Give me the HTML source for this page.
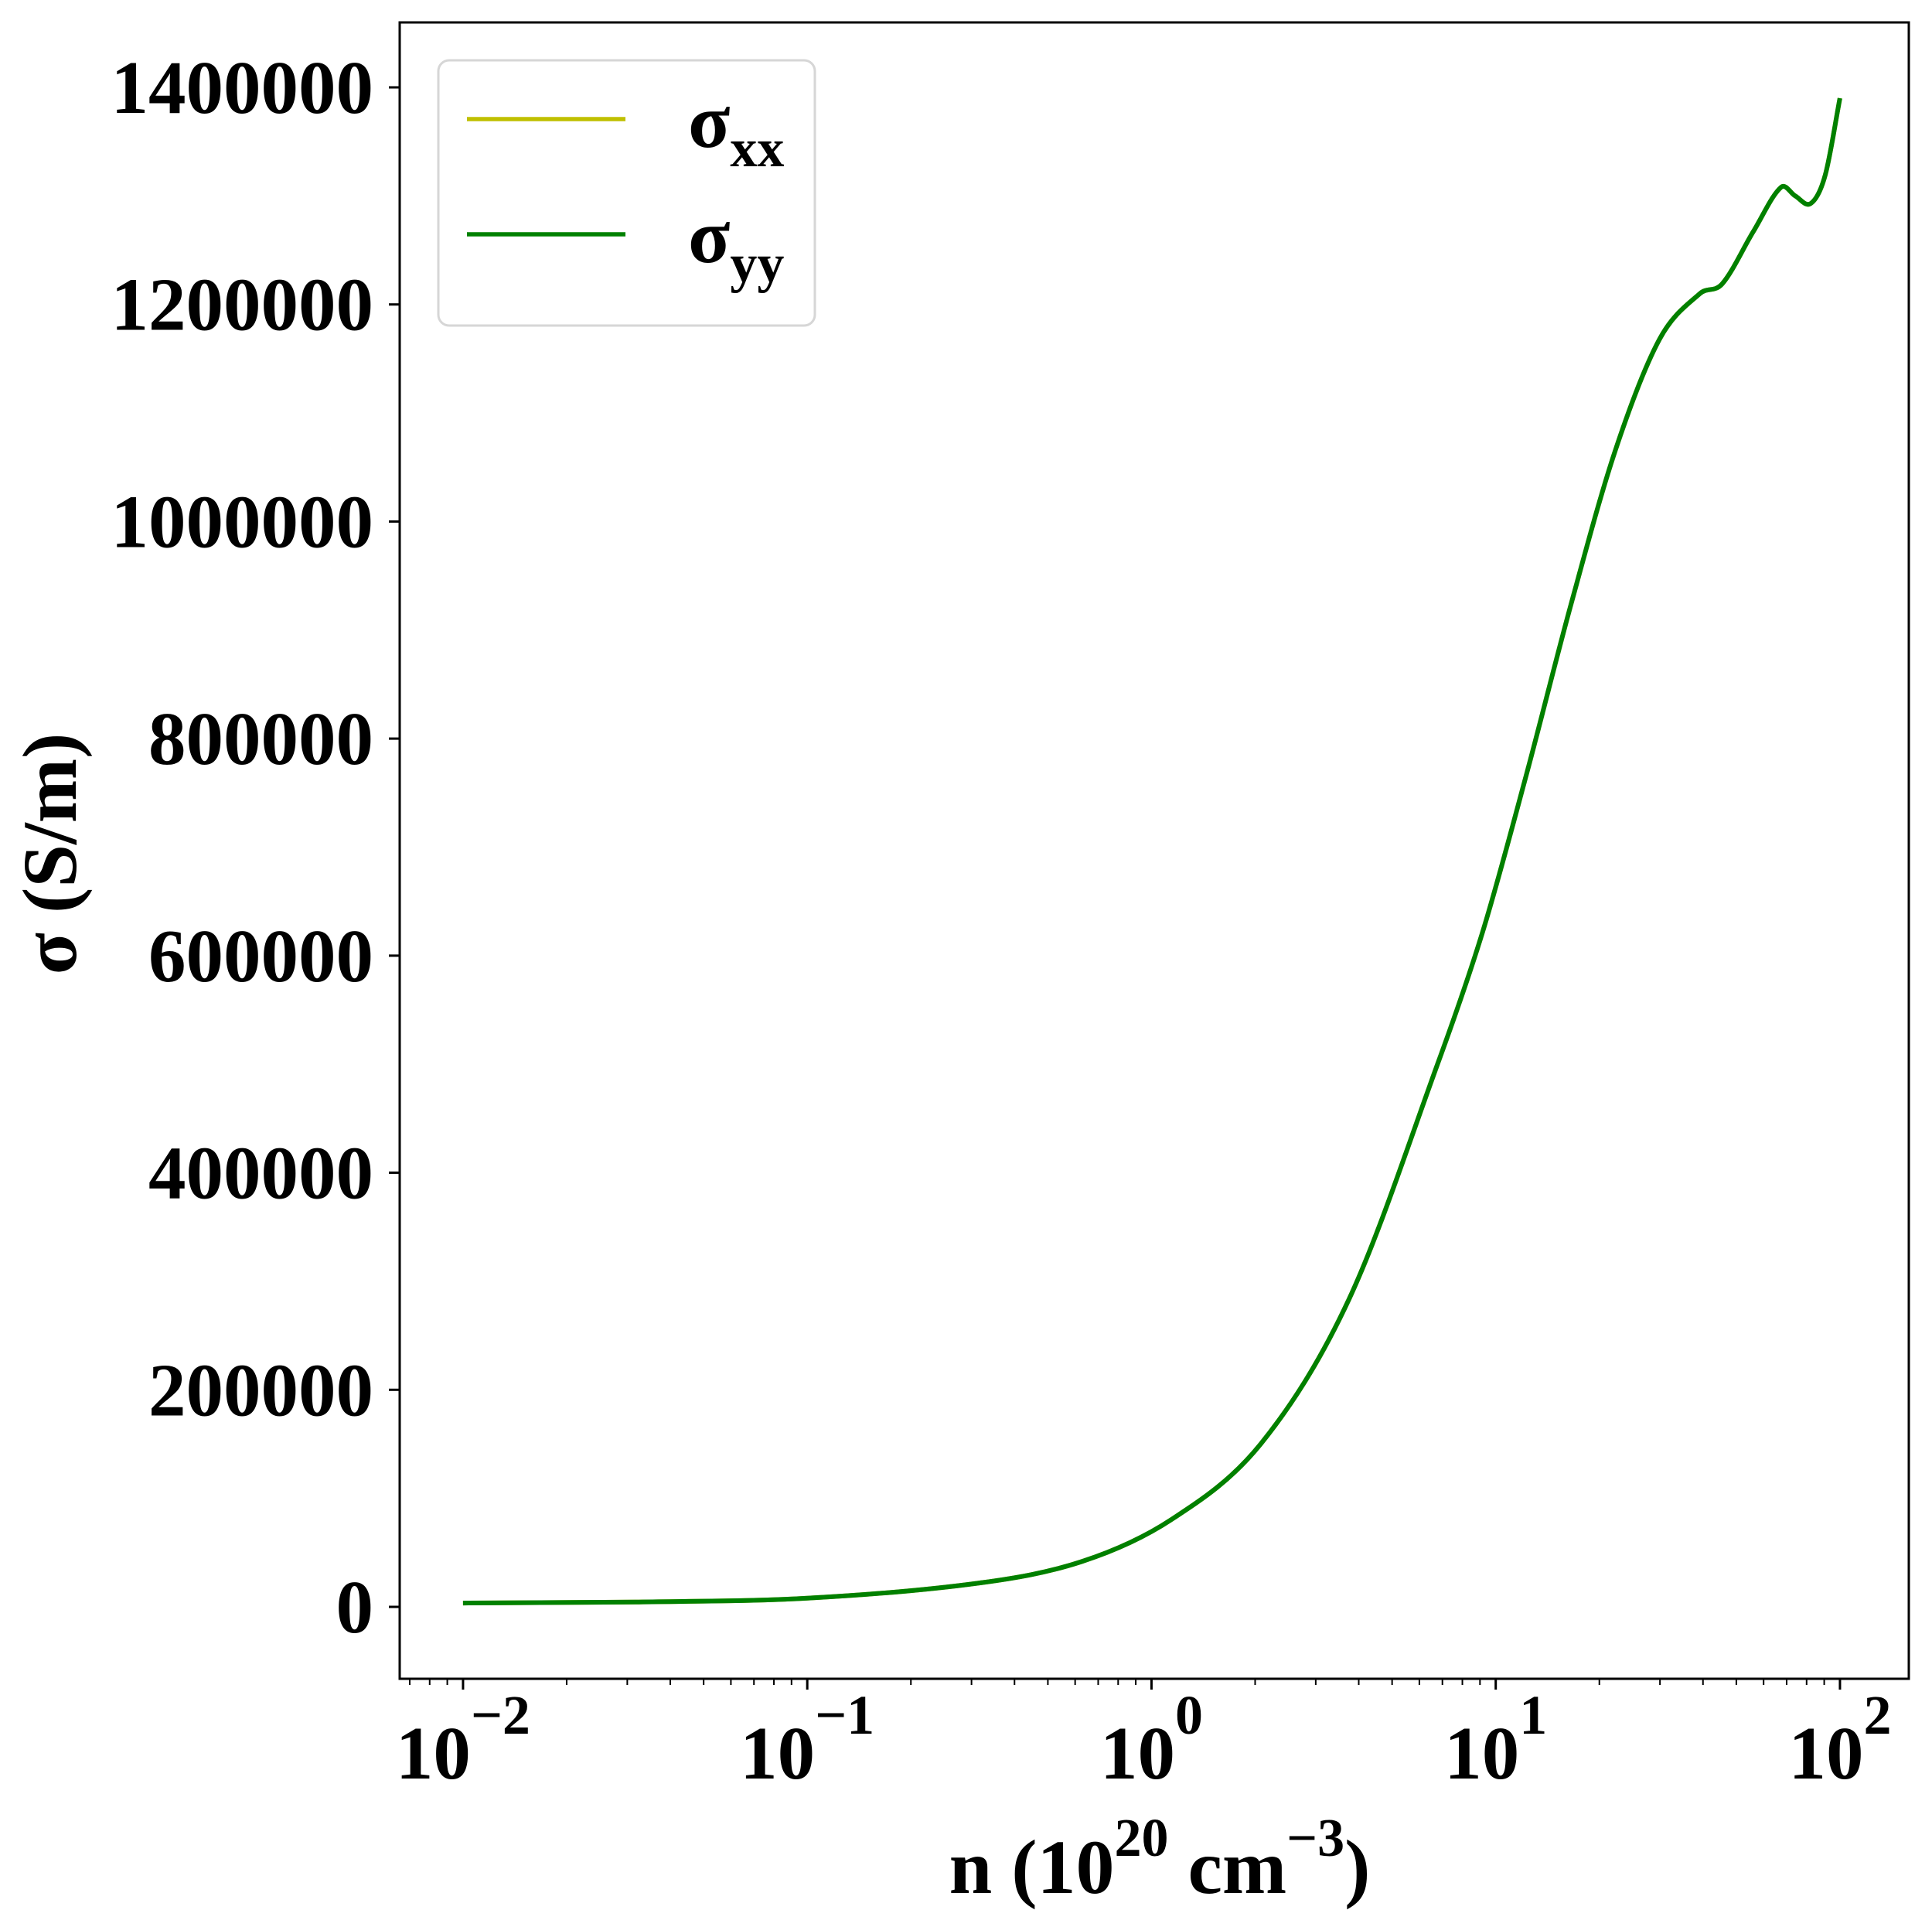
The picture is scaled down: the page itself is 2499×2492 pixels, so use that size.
<!DOCTYPE html>
<html><head><meta charset="utf-8"><style>
html,body{margin:0;padding:0;background:#fff;}
svg{display:block;font-family:"Liberation Serif","DejaVu Serif",serif;font-weight:bold;}
</style></head><body>
<svg id="chart" xmlns="http://www.w3.org/2000/svg" width="2499" height="2492" viewBox="0 0 2499 2492">
<rect width="2499" height="2492" fill="#fff"/>
<g id="plot"></g>
<g id="axes"></g>
<text x="1500" y="2448" font-size="100" text-anchor="middle">n (10<tspan font-size="70" dy="-48">20</tspan><tspan dy="48"> cm</tspan><tspan font-size="70" dy="-48">−3</tspan><tspan dy="48">)</tspan></text>
<text transform="translate(98,1104) rotate(-90)" font-size="100" text-anchor="middle">σ (S/m)</text>
<g>
<rect x="567" y="78" width="487" height="343" rx="14" fill="#fff" stroke="#d6d6d6" stroke-width="3"/>
<line x1="604" y1="154" x2="809" y2="154" stroke="#bfbf00" stroke-width="5.5"/>
<text x="890" y="190" font-size="100">σ<tspan font-size="70" dy="25">xx</tspan></text>
<line x1="604" y1="303" x2="809" y2="303" stroke="#008000" stroke-width="5.5"/>
<text x="890" y="339" font-size="100">σ<tspan font-size="70" dy="25">yy</tspan></text>
</g>
</svg>
<script>
const logN = [-2, -1.5, -1, -0.5, -0.2, 0.058, 0.317, 0.573, 0.831, 0.962, 1.09, 1.218, 1.348, 1.476, 1.593, 1.658, 1.748, 1.829, 1.87, 1.915, 1.957, 2.0];
const sigmaYY = [3500, 4500, 8000, 22000, 42000, 80500, 150000, 283000, 500000, 622000, 768000, 923000, 1066000, 1168000, 1210000, 1219000, 1267000, 1308000, 1300000, 1293000, 1319000, 1390000];
const sigmaXX = sigmaYY.slice();
const yTicks = [0, 200000, 400000, 600000, 800000, 1000000, 1200000, 1400000];
const yTickLabels = ["0","200000","400000","600000","800000","1000000","1200000","1400000"];
const xDecades = [-2, -1, 0, 1, 2];
const xTickExp = ["−2","−1","0","1","2"];

const L=517, R=2469, T=29, B=2171;
const xmin=-2.184, xmax=2.2;
const y0px=2078, y1400px=113;
const NS="http://www.w3.org/2000/svg";
function xs(lg){return L+(lg-xmin)/(xmax-xmin)*(R-L);}
function ys(v){return y0px+(v/1400000)*(y1400px-y0px);}
function mk(tag,attrs,parent){const e=document.createElementNS(NS,tag);for(const k in attrs)e.setAttribute(k,attrs[k]);parent.appendChild(e);return e;}

const plot=document.getElementById('plot');
const axes=document.getElementById('axes');

function smoothPath(xsArr, ysArr){
  const p=xsArr.map((x,i)=>[xs(x),ys(ysArr[i])]);
  const n=p.length, m=[];
  for(let i=0;i<n;i++){
    const a=p[Math.max(0,i-1)], b=p[Math.min(n-1,i+1)];
    m.push((b[1]-a[1])/(b[0]-a[0]));
  }
  let d="M"+p[0][0].toFixed(1)+","+p[0][1].toFixed(1);
  for(let i=0;i<n-1;i++){
    const dx=(p[i+1][0]-p[i][0])/3;
    d+=" C"+(p[i][0]+dx).toFixed(1)+","+(p[i][1]+m[i]*dx).toFixed(1)+" "+(p[i+1][0]-dx).toFixed(1)+","+(p[i+1][1]-m[i+1]*dx).toFixed(1)+" "+p[i+1][0].toFixed(1)+","+p[i+1][1].toFixed(1);
  }
  return d;
}
const lx=mk('path',{d:smoothPath(logN,sigmaXX),fill:'none',stroke:'#bfbf00','stroke-width':6},plot);


const ly=mk('path',{d:smoothPath(logN,sigmaYY),fill:'none',stroke:'#008000','stroke-width':6},plot);



const frame=mk('rect',{x:L,y:T,width:R-L,height:B-T,fill:'none',stroke:'#000','stroke-width':3},axes);



yTicks.forEach((v,i)=>{
  const y=ys(v);
  const t=mk('line',{x1:L-14,y1:y,x2:L,y2:y,stroke:'#000','stroke-width':3},axes);
  
  
  const tx=mk('text',{x:483,y:y+33,'font-size':97,'text-anchor':'end'},axes);
  
  
  tx.textContent=yTickLabels[i];
});

for(let d=-3; d<=2; d++){
  for(let m=2;m<=9;m++){
    const lg=d+Math.log10(m);
    if(lg<xmin||lg>xmax)continue;
    const t=mk('line',{x1:xs(lg),y1:B,x2:xs(lg),y2:B+8,stroke:'#000','stroke-width':2},axes);
    
    
  }
}
xDecades.forEach((d,i)=>{
  const x=xs(d);
  const t=mk('line',{x1:x,y1:B,x2:x,y2:B+14,stroke:'#000','stroke-width':3},axes);
  
  
  const tx=mk('text',{x:x,y:2300,'font-size':97,'text-anchor':'middle'},axes);
  
  
  const base=mk('tspan',{},tx);
  base.textContent='10';
  const sup=mk('tspan',{'font-size':72,dy:-58},tx);
  sup.textContent=xTickExp[i];
});
</script>
</body></html>
